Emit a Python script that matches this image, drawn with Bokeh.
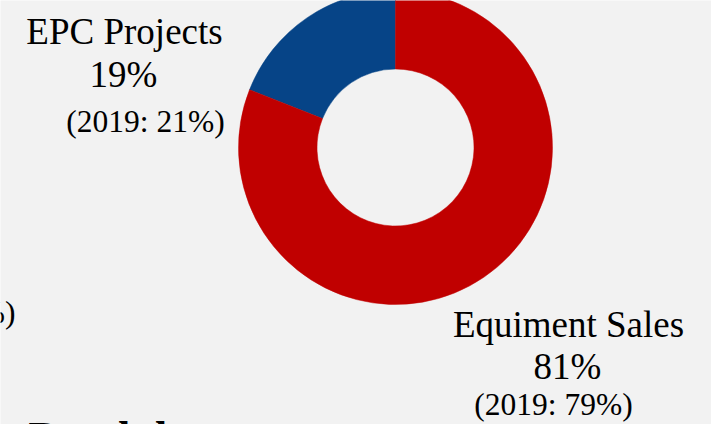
import math
from bokeh.plotting import figure
from bokeh.models import Range1d, ColumnDataSource
from bokeh.core.properties import value
from bokeh.embed import file_html
from bokeh.resources import INLINE

# ---- data ----
categories = ["EPC Projects", "Equiment Sales"]
shares_2020 = [19, 81]
shares_2019 = [21, 79]
colors = ["#064487", "#C00000"]

W, H = 711, 424
BG = "#F2F2F2"

p = figure(width=W, height=H, output_backend="svg", toolbar_location=None,
           x_range=Range1d(0, W), y_range=Range1d(0, H),
           min_border=0, background_fill_color=BG, border_fill_color=BG,
           outline_line_color=None)
p.axis.visible = False
p.grid.visible = False

# wedge angles from data (start at 12 o'clock, counter-clockwise)
total = sum(shares_2020)
starts, ends = [], []
a = math.pi / 2
for v in shares_2020:
    starts.append(a)
    a += v / total * 2 * math.pi
    ends.append(a)

cx, cy = 395, 277
src = ColumnDataSource(dict(start=starts, end=ends, color=colors,
                            cat=categories))
p.annular_wedge(x=cx, y=cy, inner_radius=78.5, outer_radius=157,
                start_angle="start", end_angle="end", direction="anticlock",
                fill_color="color", line_color="color", line_width=0.5,
                source=src)

font = value("Liberation Serif")
big = "37px"
small = "31.5px"

def label(x, y, txt, size, align="center", style="normal"):
    p.text(x=[x], y=[y], text=[txt], text_font=font, text_font_size=size,
           text_align=align, text_baseline="alphabetic", text_color="black",
           text_font_style=style)

# EPC label
label(124, 393, categories[0], big)
label(123, 350, f"{shares_2020[0]}%", big)
label(145, 303, f"(2019: {shares_2019[0]}%)", small)
# Equipment label
label(568, 100, categories[1], big)
label(567, 58, f"{shares_2020[1]}%", big)
label(553, 20, f"(2019: {shares_2019[1]}%)", small)

# cut-off neighbouring texts
label(15, 112, "%)", small, align="right")
label(28, -13, "Breakdown", "44px", align="left", style="bold")

html = file_html(p, INLINE)
open("out.html", "w").write(html)
